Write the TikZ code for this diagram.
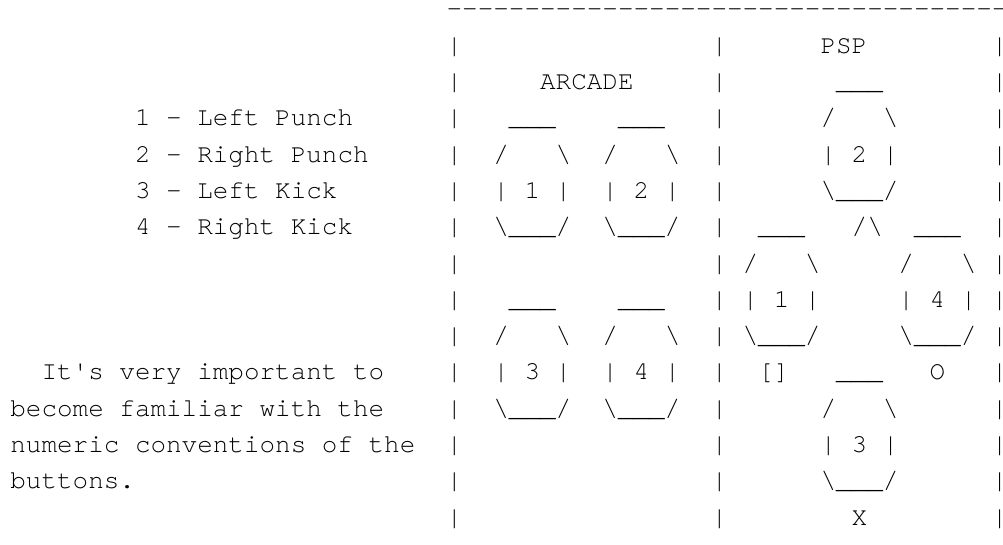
\documentclass[tikz,border=0pt]{standalone}
\usepackage{fontspec}
\setmonofont{texgyrecursor-regular.otf}
\begin{document}
\begin{tikzpicture}[x=7.79pt,y=-18.15pt,
 txt/.style={anchor=base west,inner sep=0pt,font=\ttfamily\fontsize{12.98}{14}\selectfont}]
\useasboundingbox (-5pt,8.5pt) rectangle (496.5pt,-264pt);
\foreach \c in {28,...,63} \node[txt] (d\c) at (\c,0) {-};
\foreach \r in {1,...,14} {
 \node[txt] (lb\r) at (28,\r) {|};
 \node[txt] (mb\r) at (45,\r) {|};
 \node[txt] (rb\r) at (63,\r) {|};
}
\node[txt] (k1) at (8,3) {1 - Left Punch};
\node[txt] (k2) at (8,4) {2 - Right Punch};
\node[txt] (k3) at (8,5) {3 - Left Kick};
\node[txt] (k4) at (8,6) {4 - Right Kick};
\node[txt] (note1) at (2,10) {It\textquotesingle s very important to};
\node[txt] (note2) at (0,11) {become familiar with the};
\node[txt] (note3) at (0,12) {numeric conventions of the};
\node[txt] (note4) at (0,13) {buttons.};
\node[txt] (arcade) at (34,2) {ARCADE};
\node[txt] (psp) at (52,1) {PSP};
\foreach \n/\c/\r/\l in {a1/31/3/1,a2/38/3/2,a3/31/8/3,a4/38/8/4,p2/52/2/2,p1/47/6/1,p4/57/6/4,p3/52/10/3} {
 \node[txt] (\n t) at (\c+1,\r) {\_\_\_};
 \node[txt] (\n l) at (\c,\r+1) {/};
 \node[txt] (\n r) at (\c+4,\r+1) {\textbackslash};
 \node[txt] (\n) at (\c,\r+2) {| \l{} |};
 \node[txt] (\n b) at (\c,\r+3) {\textbackslash\_\_\_/};
}
\node[txt] (tri) at (54,6) {/\textbackslash};
\node[txt] (sq) at (48,10) {[]};
\node[txt] (circ) at (59,10) {O};
\node[txt] (cross) at (54,14) {X};
\end{tikzpicture}
\end{document}
